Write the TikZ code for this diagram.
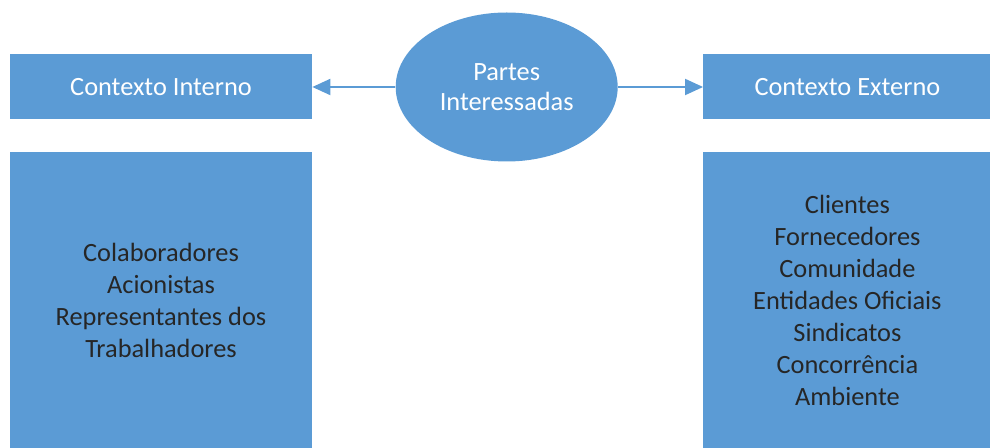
\documentclass[tikz,border=0pt]{standalone}
\usepackage{fontspec}
\setmainfont{Carlito}
\usepackage{xcolor}
\usepackage{tikz}
\usetikzlibrary{positioning, arrows.meta, shapes.geometric}
\definecolor{boxblue}{HTML}{5B9BD5}
\definecolor{listtext}{HTML}{262626}
\tikzset{
    heading/.style={rectangle, fill=boxblue, text=white, align=center, minimum height=1.3cm, inner sep=0pt, font=\fontsize{15}{18.2}\selectfont},
    listbox/.style={rectangle, fill=boxblue, text=listtext, align=center, minimum height=5.94cm, inner sep=0pt, font=\fontsize{15}{18.2}\selectfont},
    parties/.style={ellipse, fill=boxblue, text=white, align=center, minimum width=4.44cm, minimum height=2.98cm, inner sep=0pt, font=\fontsize{15}{17}\selectfont},
    arrow/.style={-{Triangle[length=0.36cm, width=0.32cm]}, draw=boxblue, fill=boxblue, line width=1.1pt}
}

\begin{document}
\begin{tikzpicture}
        \useasboundingbox (0,0) rectangle (19.8,-8.96);

        % Top row
        \node[heading, minimum width=6.04cm] (Interno) at (3.22,-1.74) {Contexto Interno};
        \node[parties, right=1.66cm of Interno] (Partes) {Partes\\Interessadas};
        \node[heading, minimum width=5.76cm, right=1.7cm of Partes] (Externo) {Contexto Externo};

        % Stakeholder lists
        \node[listbox, minimum width=6.04cm, below=0.64cm of Interno] (ListaInterno) {Colaboradores\\Acionistas\\Representantes dos\\Trabalhadores};
        \node[listbox, minimum width=5.76cm, below=0.64cm of Externo] (ListaExterno) {Clientes\\Fornecedores\\Comunidade\\Entidades Oficiais\\Sindicatos\\Concorrência\\Ambiente};

        % Connections
        \draw[arrow] (Partes) -- (Interno);
        \draw[arrow] (Partes) -- (Externo);

    \end{tikzpicture}
\end{document}
